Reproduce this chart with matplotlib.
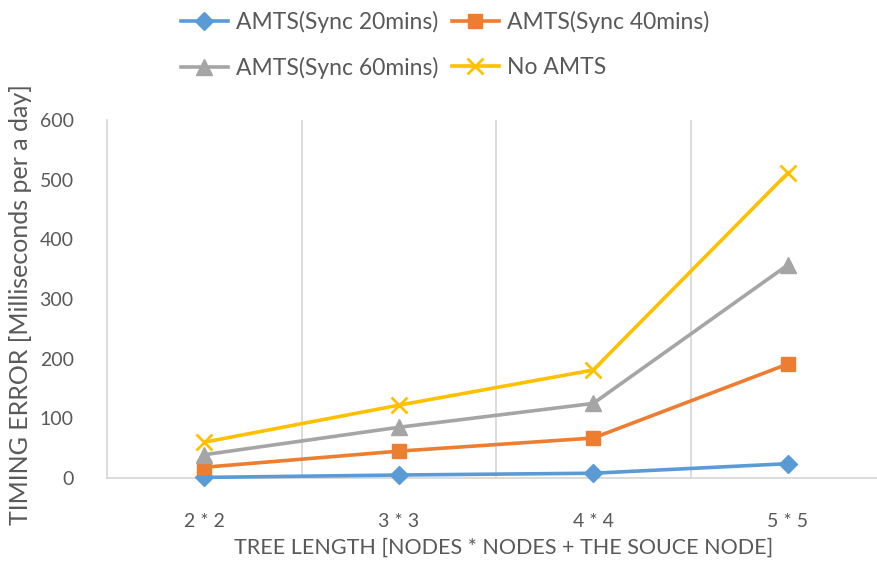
import matplotlib
matplotlib.use("Agg")
import matplotlib.pyplot as plt
import numpy as np

categories = ["2 * 2", "3 * 3", "4 * 4", "5 * 5"]
sync20 = [1, 5, 8, 24]
sync40 = [18, 45, 67, 191]
sync60 = [39, 85, 125, 357]
no_amts = [60, 122, 181, 511]
series_labels = ["AMTS(Sync 20mins)", "AMTS(Sync 40mins)", "AMTS(Sync 60mins)", "No AMTS"]
yticks = [0, 100, 200, 300, 400, 500, 600]

plt.rcParams['font.family'] = ['Lato', 'DejaVu Sans']
txt = '#595959'
grid = '#D9D9D9'

W, H = 878, 562
fig = plt.figure(figsize=(W / 100, H / 100), dpi=100)
left, right, top, bottom = 107, 878, 120, 478
ax = fig.add_axes([left / W, (H - bottom) / H, (right - left) / W, (bottom - top) / H])

x = np.arange(len(categories))
styles = [
    dict(color='#5B9BD5', marker='D', markersize=9),
    dict(color='#ED7D31', marker='s', markersize=10),
    dict(color='#A5A5A5', marker='^', markersize=11),
    dict(color='#FFC000', marker='x', markersize=11, markeredgewidth=2),
]
handles = []
for vals, lab, st in zip([sync20, sync40, sync60, no_amts], series_labels, styles):
    h, = ax.plot(x, vals, lw=2.6, label=lab, clip_on=False, zorder=3, **st)
    handles.append(h)

ax.set_ylim(0, 600)
ax.set_xlim(-0.5, 3.5 - 7 / 194)
ax.set_yticks(yticks)
ax.set_xticks(x)
ax.set_xticklabels(categories)
ax.set_xticks([0.5, 1.5, 2.5], minor=True)
ax.grid(False)
ax.grid(True, which='minor', axis='x', color=grid, lw=1.3)
ax.tick_params(which='both', length=0)
ax.tick_params(axis='x', pad=25, labelsize=14, labelcolor=txt)
ax.tick_params(axis='y', pad=24, labelsize=14, labelcolor=txt)
for s in ['top', 'right']:
    ax.spines[s].set_visible(False)
for s in ['left', 'bottom']:
    ax.spines[s].set_color(grid)
    ax.spines[s].set_linewidth(1.3)

fig.text(504 / W, (H - 548) / H, "TREE LENGTH [NODES * NODES + THE SOUCE NODE]",
         ha='center', va='center', fontsize=15.5, color=txt)
fig.text(21 / W, (H - 305) / H, "TIMING ERROR [Milliseconds per a day]",
         ha='center', va='center', rotation=90, fontsize=18, color=txt)

order = [0, 2, 1, 3]
leg = fig.legend(handles=[handles[i] for i in order],
                 labels=[series_labels[i] for i in order], ncol=2, loc='center',
                 bbox_to_anchor=(445 / W, (H - 45) / H), frameon=False,
                 fontsize=16.5, labelcolor=txt, handlelength=2.05, handletextpad=0.35,
                 columnspacing=0.6, labelspacing=1.05)

fig.savefig("out.png", dpi=100)
